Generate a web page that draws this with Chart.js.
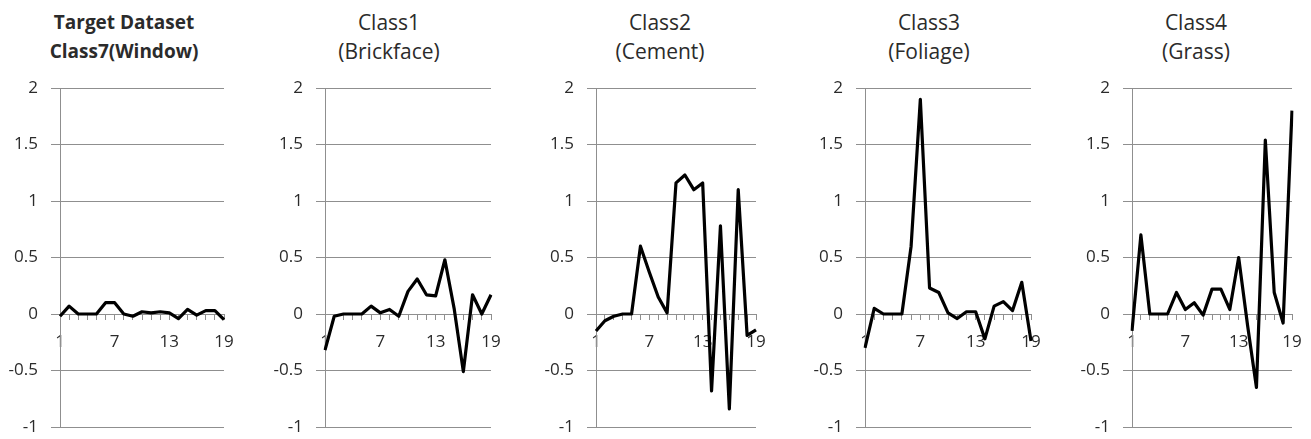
<!DOCTYPE html>
<html>
<head>
<meta charset="utf-8">
<script src="https://cdn.jsdelivr.net/npm/chart.js@4"></script>
<style>
  body { margin: 0; background: #fff; width: 1311px; height: 439px; overflow: hidden; position: relative; }
  .panel { position: absolute; top: 0; height: 439px; }
  .title { position: absolute; top: 8px; width: 220px; text-align: center; font-family: 'Open Sans', sans-serif;
           font-size: 21px; line-height: 29px; color: #2b2b2b; white-space: nowrap; }
  .title.bold { font-weight: bold; font-size: 19px; }
</style>
</head>
<body>
<script>
// x categories 1..19, only 1, 7, 13, 19 get a label
const steps = ['1','2','3','4','5','6','7','8','9','10','11','12','13','14','15','16','17','18','19'];
const shownSteps = ['1', '7', '13', '19'];

const titles = [
    ['Target Dataset', 'Class7(Window)'],
    ['Class1', '(Brickface)'],
    ['Class2', '(Cement)'],
    ['Class3', '(Foliage)'],
    ['Class4', '(Grass)']
];

// values
const windowValues    = [-0.02, 0.07, 0, 0, 0, 0.1, 0.1, 0, -0.02, 0.02, 0.01, 0.02, 0.01, -0.04, 0.04, -0.01, 0.03, 0.03, -0.05];
const brickfaceValues = [-0.32, -0.02, 0, 0, 0, 0.07, 0.01, 0.04, -0.02, 0.2, 0.31, 0.17, 0.16, 0.48, 0.05, -0.51, 0.17, 0, 0.17];
const cementValues    = [-0.15, -0.06, -0.02, 0, 0, 0.6, 0.37, 0.15, 0.01, 1.16, 1.23, 1.1, 1.16, -0.68, 0.78, -0.84, 1.1, -0.19, -0.14];
const foliageValues   = [-0.3, 0.05, 0, 0, 0, 0.6, 1.9, 0.23, 0.19, 0.01, -0.04, 0.02, 0.02, -0.22, 0.07, 0.11, 0.03, 0.28, -0.24];
const grassValues     = [-0.15, 0.7, 0, 0, 0, 0.19, 0.04, 0.1, -0.01, 0.22, 0.22, 0.04, 0.5, -0.1, -0.65, 1.54, 0.19, -0.08, 1.8];

const series = [windowValues, brickfaceValues, cementValues, foliageValues, grassValues];

// layout of the five small charts (page px)
const axisLeft = [60, 325, 596, 865, 1132];
const plotWidth = [164, 166, 160, 166, 160];
const rightRoom = 16;

const gridGray = '#8f8f8f';
const textColor = '#2b2b2b';

// keep chart.js from adding its own label padding, the sizes are fixed by hand
function noPadding(scale) {
    scale.paddingTop = 0;
    scale.paddingBottom = 0;
    scale.paddingLeft = 0;
    scale.paddingRight = 0;
}

series.forEach(function (values, i) {
    // title as plain text above each chart, centred a little left of the plot like the original
    const title = document.createElement('div');
    title.className = i === 0 ? 'title bold' : 'title';
    title.style.left = (axisLeft[i] + 64 - 110) + 'px';
    title.innerHTML = titles[i].join('<br>');
    document.body.appendChild(title);

    const box = document.createElement('div');
    box.className = 'panel';
    box.style.left = (axisLeft[i] - 62) + 'px';
    box.style.width = (62 + plotWidth[i] + rightRoom) + 'px';
    const canvas = document.createElement('canvas');
    canvas.width = 62 + plotWidth[i] + rightRoom;
    canvas.height = 439;
    box.appendChild(canvas);
    document.body.appendChild(box);

    new Chart(canvas, {
        type: 'line',
        data: {
            labels: steps,
            datasets: [{
                data: values,
                borderColor: '#000',
                borderWidth: 3.2,
                pointRadius: 0,
                tension: 0,
                borderJoinStyle: 'round',
                fill: false
            }]
        },
        options: {
            responsive: false,
            animation: false,
            layout: {
                padding: { left: 0, right: rightRoom, top: 88, bottom: 12 }
            },
            plugins: {
                legend: { display: false },
                tooltip: { enabled: false },
                title: { display: false }
            },
            scales: {
                x: {
                    // the x axis crosses at y = 0
                    position: { y: 0 },
                    offset: false,
                    grid: { drawOnChartArea: false, drawTicks: true, tickLength: 5, color: gridGray, tickColor: gridGray, tickWidth: 1 },
                    border: { color: gridGray },
                    ticks: {
                        autoSkip: false,
                        maxRotation: 0,
                        padding: 13,
                        color: textColor,
                        font: { family: 'Open Sans', size: 17 },
                        callback: function (v, idx) {
                            return shownSteps.includes(steps[idx]) ? steps[idx] : '';
                        }
                    },
                    afterFit: function (scale) {
                        scale.height = 0;
                        noPadding(scale);
                    }
                },
                y: {
                    min: -1,
                    max: 2,
                    grid: { color: gridGray, tickLength: 9 },
                    border: { color: gridGray },
                    ticks: {
                        stepSize: 0.5,
                        padding: 13,
                        color: textColor,
                        font: { family: 'Open Sans', size: 17 },
                        callback: function (v) { return String(v); }
                    },
                    afterFit: function (scale) {
                        scale.width = 62;
                        noPadding(scale);
                    }
                }
            }
        }
    });
});
</script>
</body>
</html>
